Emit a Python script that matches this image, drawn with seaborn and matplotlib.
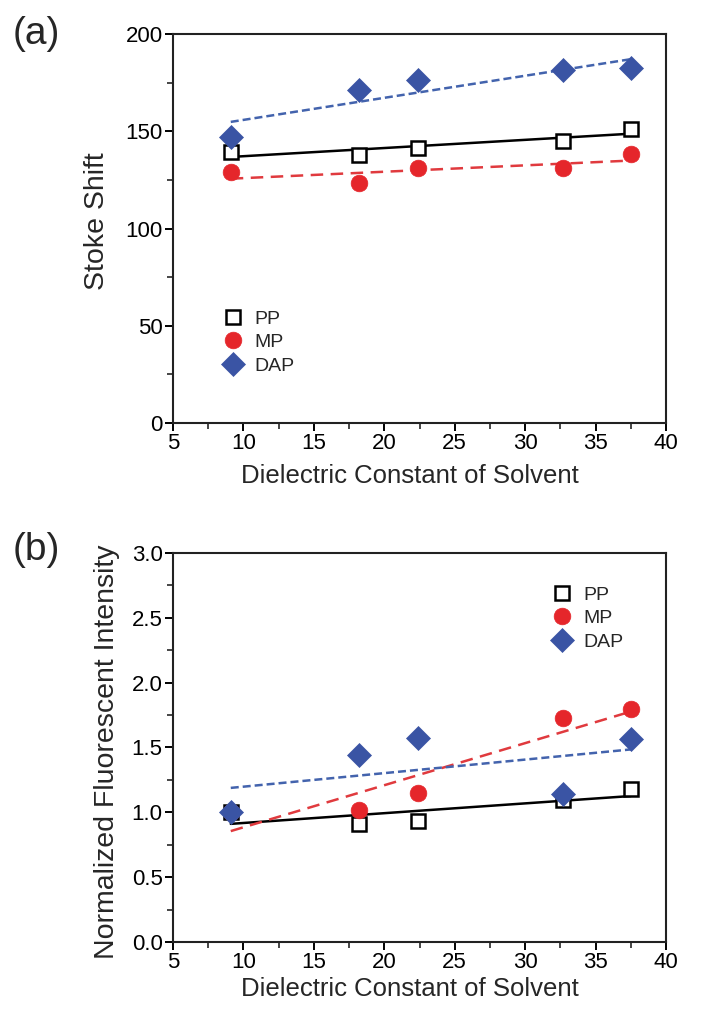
import numpy as np
import pandas as pd
import matplotlib
matplotlib.use("Agg")
import matplotlib.pyplot as plt
from matplotlib.ticker import MultipleLocator, FormatStrFormatter
from matplotlib.lines import Line2D
import seaborn as sns

# ---- data ----
dielectric = [9.1, 18.2, 22.4, 32.7, 37.5]
series = ["PP", "MP", "DAP"]
stoke_pp = [139.3, 138.0, 141.6, 145.0, 151.4]
stoke_mp = [129.0, 123.2, 131.3, 130.9, 138.1]
stoke_dap = [147.3, 171.3, 176.3, 181.4, 182.3]
fluor_pp = [1.00, 0.907, 0.935, 1.095, 1.18]
fluor_mp = [1.00, 1.018, 1.151, 1.725, 1.797]
fluor_dap = [1.00, 1.442, 1.573, 1.139, 1.565]
x_ticks = [5, 10, 15, 20, 25, 30, 35, 40]
ya_ticks = [0, 50, 100, 150, 200]
yb_ticks = [0.0, 0.5, 1.0, 1.5, 2.0, 2.5, 3.0]

RED = "#e5262b"
BLUE = "#3a54a4"
BLUE_LINE = "#4363ad"

sns.set_theme(style="white")
REGULAR = ["Liberation Sans", "DejaVu Sans"]
plt.rcParams["font.family"] = REGULAR

styles = {
    "PP": dict(marker="s", mfc="white", mec="black", ms=10, mew=1.8,
               ls="-", dash=None, lc="black"),
    "MP": dict(marker="o", mfc=RED, mec=RED, ms=12, mew=0.5,
               ls="--", dash=(5, 3), lc="#e03a3e"),
    "DAP": dict(marker="D", mfc=BLUE, mec=BLUE, ms=12.5, mew=0.5,
                ls="--", dash=(3.2, 1.6), lc=BLUE_LINE),
}

def make_df(pp, mp, dap):
    rows = []
    for name, vals in zip(series, [pp, mp, dap]):
        for xv, yv in zip(dielectric, vals):
            rows.append({"x": xv, "y": yv, "series": name})
    return pd.DataFrame(rows)

df_a = make_df(stoke_pp, stoke_mp, stoke_dap)
df_b = make_df(fluor_pp, fluor_mp, fluor_dap)

fig = plt.figure(figsize=(7.17, 10.19), dpi=100)
ax_a = fig.add_axes([0.2413, 0.5849, 0.6876, 0.3817])
ax_b = fig.add_axes([0.2413, 0.0756, 0.6876, 0.3817])

def draw(ax, df, ylim, yticks, ymin_step, ylabel, legend_anchor, fmt,
         xlabel_y, ylabel_xy):
    for name in series:
        st = styles[name]
        sub = df[df.series == name]
        kws = dict(color=st["lc"], lw=1.8, ls=st["ls"], zorder=2)
        if st["dash"]:
            kws["dashes"] = st["dash"]
        sns.regplot(data=sub, x="x", y="y", ax=ax, scatter=False, ci=None,
                    truncate=True, line_kws=kws)
    for name in series:
        st = styles[name]
        sub = df[df.series == name]
        sns.lineplot(data=sub, x="x", y="y", ax=ax, ls="none", marker=st["marker"],
                     markerfacecolor=st["mfc"], markeredgecolor=st["mec"],
                     markersize=st["ms"], markeredgewidth=st["mew"],
                     zorder=3, legend=False)
    ax.set_xlim(5, 40)
    ax.set_ylim(*ylim)
    ax.set_xticks(x_ticks)
    ax.set_yticks(yticks)
    ax.xaxis.set_minor_locator(MultipleLocator(2.5))
    ax.yaxis.set_minor_locator(MultipleLocator(ymin_step))
    ax.yaxis.set_major_formatter(fmt)
    ax.tick_params(which="major", direction="out", length=6, width=1.4,
                   labelsize=16, colors="black", pad=1.5, left=True, bottom=True)
    ax.tick_params(which="minor", direction="out", length=4, width=1.2,
                   left=True, bottom=True)
    for sp in ax.spines.values():
        sp.set_visible(True)
        sp.set_color("#222222")
        sp.set_linewidth(1.5)
    ax.set_xlabel("Dielectric Constant of Solvent", fontsize=18.5)
    ax.set_ylabel(ylabel, fontsize=20.5)
    ax.xaxis.set_label_coords(0.48, xlabel_y)
    ax.xaxis.label.set_verticalalignment("top")
    ax.yaxis.set_label_coords(*ylabel_xy)
    handles = []
    for name in series:
        st = styles[name]
        handles.append(Line2D([], [], ls="none", marker=st["marker"],
                              mfc=st["mfc"], mec=st["mec"], ms=st["ms"],
                              mew=st["mew"]))
    ax.legend(handles, series, loc="upper left", bbox_to_anchor=legend_anchor,
              frameon=False, fontsize=14, handletextpad=0.5, labelspacing=0.3,
              borderaxespad=0, handlelength=1.2)

draw(ax_a, df_a, (0, 200), ya_ticks, 25, "Stoke Shift", (0.082, 0.31),
     FormatStrFormatter("%d"), -0.105, (-0.128, 0.52))
draw(ax_b, df_b, (0, 3), yb_ticks, 0.25, "Normalized Fluorescent Intensity",
     (0.75, 0.935), FormatStrFormatter("%.1f"), -0.09, (-0.108, 0.49))

fig.text(0.018, 0.967, "(a)", fontsize=28, va="center")
fig.text(0.018, 0.460, "(b)", fontsize=28, va="center")

fig.savefig("out.png", dpi=100, facecolor="white")
